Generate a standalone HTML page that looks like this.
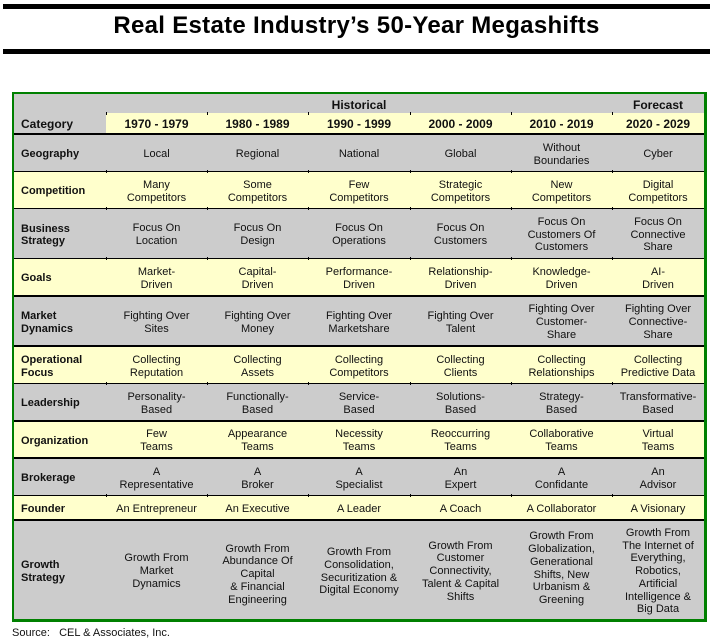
<!DOCTYPE html>
<html><head><meta charset="utf-8"><style>
*{margin:0;padding:0;box-sizing:border-box}
body{width:713px;height:643px;background:#fff;position:relative;overflow:hidden;font-family:"Liberation Sans",Arial,sans-serif;color:#111}
.a{position:absolute}
.bar{position:absolute;left:3px;width:707px;height:5px;background:#000}
.title{position:absolute;left:0;width:713px;top:14px;height:24px;line-height:24px;text-align:center;font-weight:bold;font-size:24px;letter-spacing:0.3px;color:#000}
.g{background:#cccccc}
.y{background:#ffffcc}
.ln{position:absolute;left:14px;width:690px;background:#000}
.c{position:absolute;display:flex;align-items:center;justify-content:center;text-align:center;font-size:11px;line-height:12.7px;padding-top:3px}
.l{position:absolute;display:flex;align-items:center;left:21px;width:85px;font-size:11px;line-height:12.2px;font-weight:bold;padding-top:3px}
.h{font-weight:bold;font-size:12px}
.tk{position:absolute;width:1px;height:3px;background:#000}
</style></head><body>
<div class="bar" style="top:4px"></div>
<div class="title">Real Estate Industry’s 50-Year Megashifts</div>
<div class="bar" style="top:49px"></div>

<!-- backgrounds -->
<div class="a g" style="left:14px;top:94px;width:690px;height:39px"></div>
<div class="a y" style="left:106px;top:113px;width:598px;height:20px"></div>
<div class="a g" style="left:14px;top:135px;width:690px;height:36px"></div>
<div class="a y" style="left:14px;top:172px;width:690px;height:36px"></div>
<div class="a g" style="left:14px;top:209px;width:690px;height:49px"></div>
<div class="a y" style="left:14px;top:259px;width:690px;height:36px"></div>
<div class="a g" style="left:14px;top:297px;width:690px;height:48px"></div>
<div class="a y" style="left:14px;top:347px;width:690px;height:36px"></div>
<div class="a g" style="left:14px;top:384px;width:690px;height:36px"></div>
<div class="a y" style="left:14px;top:422px;width:690px;height:35px"></div>
<div class="a g" style="left:14px;top:459px;width:690px;height:36px"></div>
<div class="a y" style="left:14px;top:496px;width:690px;height:23px"></div>
<div class="a g" style="left:14px;top:521px;width:690px;height:98px"></div>

<!-- lines -->
<div class="ln" style="top:133px;height:2px"></div>
<div class="ln" style="top:171px;height:1px"></div>
<div class="ln" style="top:208px;height:1px"></div>
<div class="ln" style="top:258px;height:1px"></div>
<div class="ln" style="top:295px;height:2px"></div>
<div class="ln" style="top:345px;height:2px"></div>
<div class="ln" style="top:383px;height:1px"></div>
<div class="ln" style="top:420px;height:2px"></div>
<div class="ln" style="top:457px;height:2px"></div>
<div class="ln" style="top:495px;height:1px"></div>
<div class="ln" style="top:519px;height:2px"></div>

<!-- tick marks -->
<div class="tk" style="left:106px;top:112px"></div><div class="tk" style="left:207px;top:112px"></div><div class="tk" style="left:308px;top:112px"></div><div class="tk" style="left:410px;top:112px"></div><div class="tk" style="left:511px;top:112px"></div><div class="tk" style="left:612px;top:112px"></div>
<div class="tk" style="left:106px;top:170px"></div><div class="tk" style="left:207px;top:170px"></div><div class="tk" style="left:308px;top:170px"></div><div class="tk" style="left:410px;top:170px"></div><div class="tk" style="left:511px;top:170px"></div><div class="tk" style="left:612px;top:170px"></div>
<div class="tk" style="left:106px;top:207px"></div><div class="tk" style="left:207px;top:207px"></div><div class="tk" style="left:308px;top:207px"></div><div class="tk" style="left:410px;top:207px"></div><div class="tk" style="left:511px;top:207px"></div><div class="tk" style="left:612px;top:207px"></div>
<div class="tk" style="left:106px;top:257px"></div><div class="tk" style="left:207px;top:257px"></div><div class="tk" style="left:308px;top:257px"></div><div class="tk" style="left:410px;top:257px"></div><div class="tk" style="left:511px;top:257px"></div><div class="tk" style="left:612px;top:257px"></div>
<div class="tk" style="left:106px;top:382px"></div><div class="tk" style="left:207px;top:382px"></div><div class="tk" style="left:308px;top:382px"></div><div class="tk" style="left:410px;top:382px"></div><div class="tk" style="left:511px;top:382px"></div><div class="tk" style="left:612px;top:382px"></div>
<div class="tk" style="left:106px;top:494px"></div><div class="tk" style="left:207px;top:494px"></div><div class="tk" style="left:308px;top:494px"></div><div class="tk" style="left:410px;top:494px"></div><div class="tk" style="left:511px;top:494px"></div><div class="tk" style="left:612px;top:494px"></div>

<!-- green border -->
<div class="a" style="left:12px;top:92px;width:695px;height:530px;border-style:solid;border-color:#008000;border-width:2px 3px 3px 2px"></div>

<!-- header -->
<div class="c h" style="left:106px;top:94px;width:506px;height:19px">Historical</div>
<div class="c h" style="left:612px;top:94px;width:92px;height:19px">Forecast</div>
<div class="l h" style="top:113px;height:20px;font-size:12px">Category</div>
<div class="c h" style="left:106px;top:113px;width:101px;height:20px">1970 - 1979</div>
<div class="c h" style="left:207px;top:113px;width:101px;height:20px">1980 - 1989</div>
<div class="c h" style="left:308px;top:113px;width:102px;height:20px">1990 - 1999</div>
<div class="c h" style="left:410px;top:113px;width:101px;height:20px">2000 - 2009</div>
<div class="c h" style="left:511px;top:113px;width:101px;height:20px">2010 - 2019</div>
<div class="c h" style="left:612px;top:113px;width:92px;height:20px">2020 - 2029</div>

<!-- Geography -->
<div class="l" style="top:135px;height:36px">Geography</div>
<div class="c" style="left:106px;top:135px;width:101px;height:36px">Local</div>
<div class="c" style="left:207px;top:135px;width:101px;height:36px">Regional</div>
<div class="c" style="left:308px;top:135px;width:102px;height:36px">National</div>
<div class="c" style="left:410px;top:135px;width:101px;height:36px">Global</div>
<div class="c" style="left:511px;top:135px;width:101px;height:36px">Without<br>Boundaries</div>
<div class="c" style="left:612px;top:135px;width:92px;height:36px">Cyber</div>

<!-- Competition -->
<div class="l" style="top:172px;height:36px">Competition</div>
<div class="c" style="left:106px;top:172px;width:101px;height:36px">Many<br>Competitors</div>
<div class="c" style="left:207px;top:172px;width:101px;height:36px">Some<br>Competitors</div>
<div class="c" style="left:308px;top:172px;width:102px;height:36px">Few<br>Competitors</div>
<div class="c" style="left:410px;top:172px;width:101px;height:36px">Strategic<br>Competitors</div>
<div class="c" style="left:511px;top:172px;width:101px;height:36px">New<br>Competitors</div>
<div class="c" style="left:612px;top:172px;width:92px;height:36px">Digital<br>Competitors</div>

<!-- Business Strategy -->
<div class="l" style="top:209px;height:49px">Business<br>Strategy</div>
<div class="c" style="left:106px;top:209px;width:101px;height:49px">Focus On<br>Location</div>
<div class="c" style="left:207px;top:209px;width:101px;height:49px">Focus On<br>Design</div>
<div class="c" style="left:308px;top:209px;width:102px;height:49px">Focus On<br>Operations</div>
<div class="c" style="left:410px;top:209px;width:101px;height:49px">Focus On<br>Customers</div>
<div class="c" style="left:511px;top:209px;width:101px;height:49px">Focus On<br>Customers Of<br>Customers</div>
<div class="c" style="left:612px;top:209px;width:92px;height:49px">Focus On<br>Connective<br>Share</div>

<!-- Goals -->
<div class="l" style="top:259px;height:36px">Goals</div>
<div class="c" style="left:106px;top:259px;width:101px;height:36px">Market-<br>Driven</div>
<div class="c" style="left:207px;top:259px;width:101px;height:36px">Capital-<br>Driven</div>
<div class="c" style="left:308px;top:259px;width:102px;height:36px">Performance-<br>Driven</div>
<div class="c" style="left:410px;top:259px;width:101px;height:36px">Relationship-<br>Driven</div>
<div class="c" style="left:511px;top:259px;width:101px;height:36px">Knowledge-<br>Driven</div>
<div class="c" style="left:612px;top:259px;width:92px;height:36px">AI-<br>Driven</div>

<!-- Market Dynamics -->
<div class="l" style="top:297px;height:48px">Market<br>Dynamics</div>
<div class="c" style="left:106px;top:297px;width:101px;height:48px">Fighting Over<br>Sites</div>
<div class="c" style="left:207px;top:297px;width:101px;height:48px">Fighting Over<br>Money</div>
<div class="c" style="left:308px;top:297px;width:102px;height:48px">Fighting Over<br>Marketshare</div>
<div class="c" style="left:410px;top:297px;width:101px;height:48px">Fighting Over<br>Talent</div>
<div class="c" style="left:511px;top:297px;width:101px;height:48px">Fighting Over<br>Customer-<br>Share</div>
<div class="c" style="left:612px;top:297px;width:92px;height:48px">Fighting Over<br>Connective-<br>Share</div>

<!-- Operational Focus -->
<div class="l" style="top:347px;height:36px">Operational<br>Focus</div>
<div class="c" style="left:106px;top:347px;width:101px;height:36px">Collecting<br>Reputation</div>
<div class="c" style="left:207px;top:347px;width:101px;height:36px">Collecting<br>Assets</div>
<div class="c" style="left:308px;top:347px;width:102px;height:36px">Collecting<br>Competitors</div>
<div class="c" style="left:410px;top:347px;width:101px;height:36px">Collecting<br>Clients</div>
<div class="c" style="left:511px;top:347px;width:101px;height:36px">Collecting<br>Relationships</div>
<div class="c" style="left:612px;top:347px;width:92px;height:36px">Collecting<br>Predictive Data</div>

<!-- Leadership -->
<div class="l" style="top:384px;height:36px">Leadership</div>
<div class="c" style="left:106px;top:384px;width:101px;height:36px">Personality-<br>Based</div>
<div class="c" style="left:207px;top:384px;width:101px;height:36px">Functionally-<br>Based</div>
<div class="c" style="left:308px;top:384px;width:102px;height:36px">Service-<br>Based</div>
<div class="c" style="left:410px;top:384px;width:101px;height:36px">Solutions-<br>Based</div>
<div class="c" style="left:511px;top:384px;width:101px;height:36px">Strategy-<br>Based</div>
<div class="c" style="left:612px;top:384px;width:92px;height:36px">Transformative-<br>Based</div>

<!-- Organization -->
<div class="l" style="top:422px;height:35px">Organization</div>
<div class="c" style="left:106px;top:422px;width:101px;height:35px">Few<br>Teams</div>
<div class="c" style="left:207px;top:422px;width:101px;height:35px">Appearance<br>Teams</div>
<div class="c" style="left:308px;top:422px;width:102px;height:35px">Necessity<br>Teams</div>
<div class="c" style="left:410px;top:422px;width:101px;height:35px">Reoccurring<br>Teams</div>
<div class="c" style="left:511px;top:422px;width:101px;height:35px">Collaborative<br>Teams</div>
<div class="c" style="left:612px;top:422px;width:92px;height:35px">Virtual<br>Teams</div>

<!-- Brokerage -->
<div class="l" style="top:459px;height:36px">Brokerage</div>
<div class="c" style="left:106px;top:459px;width:101px;height:36px">A<br>Representative</div>
<div class="c" style="left:207px;top:459px;width:101px;height:36px">A<br>Broker</div>
<div class="c" style="left:308px;top:459px;width:102px;height:36px">A<br>Specialist</div>
<div class="c" style="left:410px;top:459px;width:101px;height:36px">An<br>Expert</div>
<div class="c" style="left:511px;top:459px;width:101px;height:36px">A<br>Confidante</div>
<div class="c" style="left:612px;top:459px;width:92px;height:36px">An<br>Advisor</div>

<!-- Founder -->
<div class="l" style="top:496px;height:23px">Founder</div>
<div class="c" style="left:106px;top:496px;width:101px;height:23px">An Entrepreneur</div>
<div class="c" style="left:207px;top:496px;width:101px;height:23px">An Executive</div>
<div class="c" style="left:308px;top:496px;width:102px;height:23px">A Leader</div>
<div class="c" style="left:410px;top:496px;width:101px;height:23px">A Coach</div>
<div class="c" style="left:511px;top:496px;width:101px;height:23px">A Collaborator</div>
<div class="c" style="left:612px;top:496px;width:92px;height:23px">A Visionary</div>

<!-- Growth Strategy -->
<div class="l" style="top:521px;height:98px;line-height:12.7px">Growth<br>Strategy</div>
<div class="c" style="left:106px;top:521px;width:101px;height:98px">Growth From<br>Market<br>Dynamics</div>
<div class="c" style="left:207px;top:524px;width:101px;height:98px">Growth From<br>Abundance Of<br>Capital<br>&amp; Financial<br>Engineering</div>
<div class="c" style="left:308px;top:521px;width:102px;height:98px">Growth From<br>Consolidation,<br>Securitization &amp;<br>Digital Economy</div>
<div class="c" style="left:410px;top:521px;width:101px;height:98px">Growth From<br>Customer<br>Connectivity,<br>Talent &amp; Capital<br>Shifts</div>
<div class="c" style="left:511px;top:518px;width:101px;height:98px">Growth From<br>Globalization,<br>Generational<br>Shifts, New<br>Urbanism &amp;<br>Greening</div>
<div class="c" style="left:612px;top:521px;width:92px;height:98px">Growth From<br>The Internet of<br>Everything,<br>Robotics,<br>Artificial<br>Intelligence &amp;<br>Big Data</div>

<!-- source -->
<div class="a" style="left:12px;top:626px;height:14px;line-height:14px;font-size:11px;white-space:pre">Source:   CEL &amp; Associates, Inc.</div>
</body></html>
